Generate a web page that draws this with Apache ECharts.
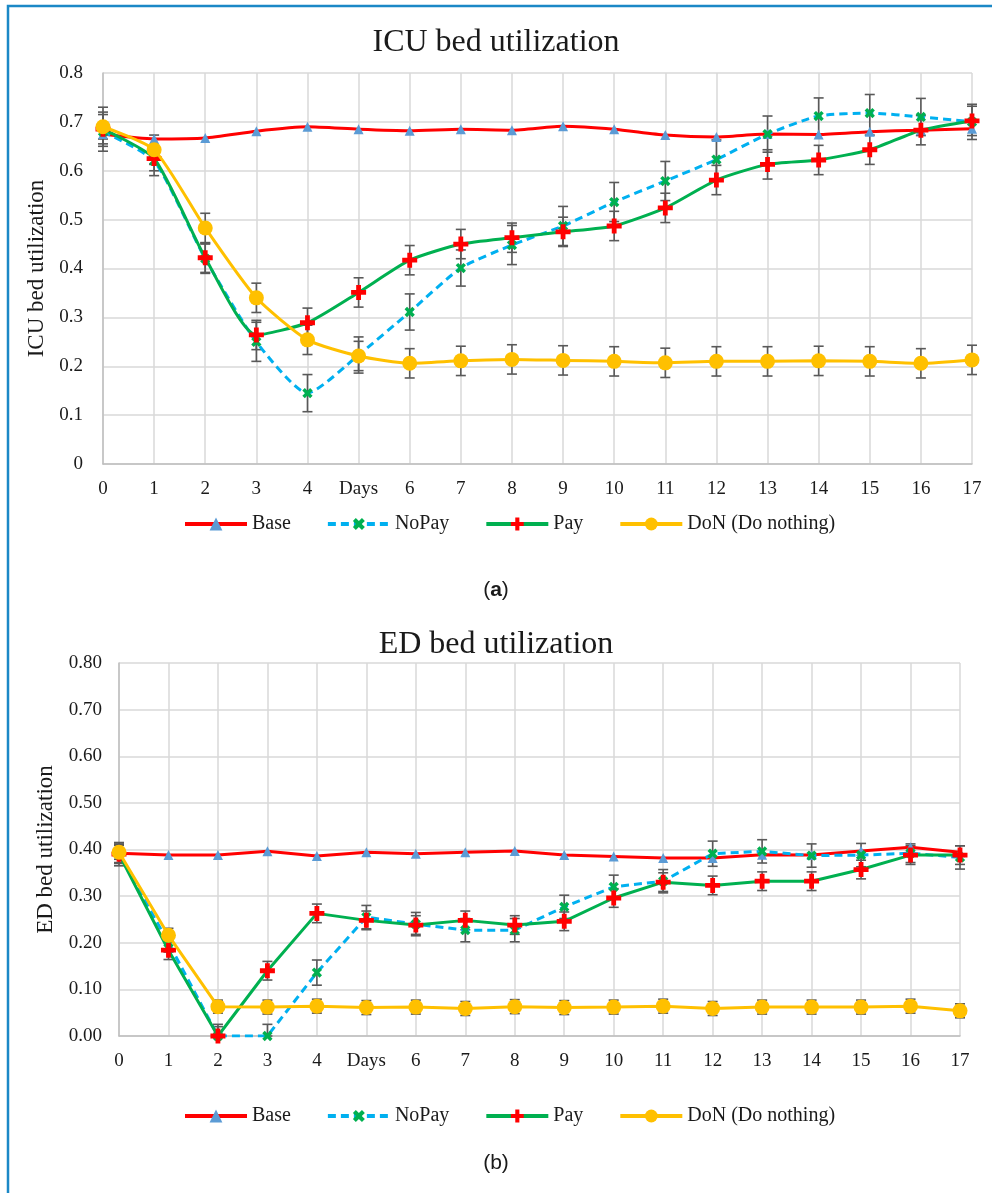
<!DOCTYPE html>
<html>
<head>
<meta charset="utf-8">
<script src="https://cdn.jsdelivr.net/npm/echarts@6/dist/echarts.min.js"></script>
<style>
  html, body { margin: 0; padding: 0; background: #fff; }
  #main { width: 992px; height: 1193px; }
</style>
</head>
<body>
<div id="main"></div>
<script>
// x axis: day 5 is labelled "Days"
var days = [0, 1, 2, 3, 4, 5, 6, 7, 8, 9, 10, 11, 12, 13, 14, 15, 16, 17];
var xLabels = ['0', '1', '2', '3', '4', 'Days', '6', '7', '8', '9', '10', '11', '12', '13', '14', '15', '16', '17'];
var yLabelsA = ['0', '0.1', '0.2', '0.3', '0.4', '0.5', '0.6', '0.7', '0.8'];
var yLabelsB = ['0.00', '0.10', '0.20', '0.30', '0.40', '0.50', '0.60', '0.70', '0.80'];
var seriesNames = ['Base', 'NoPay', 'Pay', 'DoN (Do nothing)'];

// (a) ICU bed utilization
var baseA = [0.675, 0.665, 0.667, 0.681, 0.690, 0.685, 0.682, 0.685, 0.683, 0.691, 0.685, 0.673, 0.669, 0.675, 0.674, 0.680, 0.683, 0.686];
var noPayA = [0.680, 0.620, 0.420, 0.250, 0.145, 0.223, 0.311, 0.401, 0.448, 0.487, 0.536, 0.579, 0.623, 0.675, 0.712, 0.718, 0.710, 0.700];
var payA = [0.685, 0.625, 0.422, 0.264, 0.289, 0.351, 0.417, 0.450, 0.463, 0.475, 0.487, 0.524, 0.581, 0.613, 0.622, 0.643, 0.683, 0.702];
var donA = [0.690, 0.643, 0.483, 0.340, 0.254, 0.221, 0.206, 0.211, 0.214, 0.212, 0.210, 0.207, 0.210, 0.210, 0.211, 0.210, 0.206, 0.213];
// half widths of the error bars
var baseErrA = [0.010, 0, 0, 0, 0, 0, 0, 0, 0, 0, 0, 0, 0, 0, 0, 0, 0, 0];
var noPayErrA = [0.040, 0.030, 0.030, 0.040, 0.038, 0.037, 0.037, 0.037, 0.040, 0.040, 0.040, 0.040, 0.040, 0.037, 0.037, 0.038, 0.038, 0.036];
var payErrA = [0.030, 0.025, 0.030, 0.030, 0.030, 0.030, 0.030, 0.030, 0.030, 0.030, 0.030, 0.030, 0.030, 0.030, 0.030, 0.030, 0.030, 0.030];
var donErrA = [0.040, 0.030, 0.030, 0.030, 0.030, 0.030, 0.030, 0.030, 0.030, 0.030, 0.030, 0.030, 0.030, 0.030, 0.030, 0.030, 0.030, 0.030];

// (b) ED bed utilization
var baseB = [0.392, 0.388, 0.388, 0.396, 0.386, 0.394, 0.391, 0.394, 0.397, 0.388, 0.385, 0.382, 0.382, 0.389, 0.388, 0.397, 0.405, 0.394];
var noPayB = [0.390, 0.200, 0.000, 0.000, 0.136, 0.255, 0.240, 0.227, 0.227, 0.277, 0.320, 0.332, 0.391, 0.396, 0.387, 0.388, 0.392, 0.383];
var payB = [0.390, 0.184, 0.000, 0.140, 0.263, 0.248, 0.238, 0.248, 0.238, 0.246, 0.296, 0.330, 0.323, 0.332, 0.332, 0.357, 0.388, 0.388];
var donB = [0.394, 0.216, 0.063, 0.062, 0.064, 0.061, 0.062, 0.059, 0.063, 0.061, 0.062, 0.064, 0.059, 0.062, 0.062, 0.062, 0.064, 0.054];
var baseErrB = [0.020, 0, 0, 0, 0, 0, 0, 0, 0, 0, 0, 0, 0, 0, 0, 0, 0, 0];
var noPayErrB = [0.025, 0.020, 0.025, 0.025, 0.027, 0.025, 0.025, 0.025, 0.025, 0.025, 0.025, 0.025, 0.027, 0.025, 0.025, 0.025, 0.020, 0.025];
var payErrB = [0.020, 0.020, 0.020, 0.020, 0.020, 0.020, 0.020, 0.020, 0.020, 0.020, 0.020, 0.020, 0.020, 0.020, 0.020, 0.020, 0.020, 0.020];
var donErrB = [0.015, 0.015, 0.014, 0.015, 0.015, 0.015, 0.015, 0.015, 0.015, 0.015, 0.015, 0.015, 0.015, 0.015, 0.015, 0.015, 0.015, 0.015];

var SERIF = 'Liberation Serif';
var plusPath = 'path://M3.4,0H6.6V3.4H10V6.6H6.6V10H3.4V6.6H0V3.4H3.4Z';

var styles = [
    {line: '#FF0000', dash: 'solid', symbol: 'triangle', size: 10, mark: '#5B9BD5', rot: 0},
    {line: '#00B0F0', dash: [8, 5], symbol: plusPath, size: 11, mark: '#00B050', rot: 45},
    {line: '#00B050', dash: 'solid', symbol: plusPath, size: 15, mark: '#FF0000', rot: 0},
    {line: '#FFC000', dash: 'solid', symbol: 'circle', size: 15, mark: '#FFC000', rot: 0}
];

function pairs(vals) {
    return days.map(function (d, i) { return [d, vals[i]]; });
}

function errData(vals, errs) {
    return days.map(function (d, i) {
        return [d, Math.max(0, vals[i] - errs[i]), vals[i] + errs[i]];
    });
}

function renderErr(params, api) {
    if (api.value(2) - api.value(1) <= 0) {
        return null;
    }
    var lo = api.coord([api.value(0), api.value(1)]);
    var hi = api.coord([api.value(0), api.value(2)]);
    var w = 5;
    var st = {stroke: '#595959', lineWidth: 1.6};
    return {
        type: 'group',
        children: [
            {type: 'line', shape: {x1: lo[0], y1: lo[1], x2: hi[0], y2: hi[1]}, style: st},
            {type: 'line', shape: {x1: lo[0] - w, y1: lo[1], x2: lo[0] + w, y2: lo[1]}, style: st},
            {type: 'line', shape: {x1: hi[0] - w, y1: hi[1], x2: hi[0] + w, y2: hi[1]}, style: st}
        ]
    };
}

function buildSeries(idx, valueSets, errSets, smooth) {
    var out = [];
    valueSets.forEach(function (vals, k) {
        var s = styles[k];
        out.push({
            name: seriesNames[k],
            type: 'line',
            xAxisIndex: idx,
            yAxisIndex: idx,
            data: pairs(vals),
            smooth: smooth,
            symbol: s.symbol,
            symbolSize: s.size,
            symbolRotate: s.rot,
            showAllSymbol: true,
            lineStyle: {color: s.line, width: 3, type: s.dash},
            itemStyle: {color: s.mark},
            z: 3 + k,
            animation: false
        });
        out.push({
            name: 'err' + k,
            type: 'custom',
            xAxisIndex: idx,
            yAxisIndex: idx,
            data: errData(vals, errSets[k]),
            renderItem: renderErr,
            encode: {x: 0, y: [1, 2]},
            z: 2,
            silent: true,
            animation: false
        });
    });
    return out;
}

function xAxisCfg(idx) {
    return {
        type: 'value', gridIndex: idx, min: 0, max: 17, interval: 1,
        axisLine: {lineStyle: {color: '#BFBFBF', width: 1.5}},
        axisTick: {show: false},
        splitLine: {lineStyle: {color: '#D9D9D9', width: 1.5}},
        axisLabel: {
            margin: 16, color: '#1a1a1a', fontFamily: SERIF, fontSize: 19,
            formatter: function (v) { return xLabels[Math.round(v)]; }
        }
    };
}

function yAxisCfg(idx, name, labels, gap, margin) {
    return {
        type: 'value', gridIndex: idx, min: 0, max: 0.8, interval: 0.1,
        name: name, nameLocation: 'middle', nameGap: gap,
        nameTextStyle: {fontFamily: SERIF, fontSize: 23, color: '#1a1a1a'},
        axisLine: {show: true, lineStyle: {color: '#BFBFBF', width: 1.5}},
        axisTick: {show: false},
        splitLine: {lineStyle: {color: '#D9D9D9', width: 1.5}},
        axisLabel: {
            margin: margin, color: '#1a1a1a', fontFamily: SERIF, fontSize: 19,
            formatter: function (v) { return labels[Math.round(v * 10)]; }
        }
    };
}

function legendCfg(top) {
    return {
        data: seriesNames,
        left: 178,
        top: top,
        itemWidth: 62,
        itemHeight: 16,
        itemGap: 35,
        lineStyle: {width: 4},
        textStyle: {fontFamily: SERIF, fontSize: 20, color: '#1a1a1a'},
        selectedMode: false
    };
}

var myChart = echarts.init(document.getElementById('main'), null, {renderer: 'canvas'});

var option = {
    backgroundColor: '#ffffff',
    animation: false,
    title: [
        {text: 'ICU bed utilization', left: 'center', top: 22,
            textStyle: {fontFamily: SERIF, fontSize: 32, fontWeight: 'normal', color: '#1a1a1a'}},
        {text: 'ED bed utilization', left: 'center', top: 624,
            textStyle: {fontFamily: SERIF, fontSize: 32, fontWeight: 'normal', color: '#1a1a1a'}}
    ],
    legend: [legendCfg(509), legendCfg(1101)],
    grid: [
        {left: 103, right: 20, top: 73, height: 391},
        {left: 119, right: 32, top: 663, height: 373}
    ],
    xAxis: [xAxisCfg(0), xAxisCfg(1)],
    yAxis: [
        yAxisCfg(0, 'ICU bed utilization', yLabelsA, 53, 20),
        yAxisCfg(1, 'ED bed utilization', yLabelsB, 60, 17)
    ],
    series: buildSeries(0, [baseA, noPayA, payA, donA], [baseErrA, noPayErrA, payErrA, donErrA], 0.2)
        .concat(buildSeries(1, [baseB, noPayB, payB, donB], [baseErrB, noPayErrB, payErrB, donErrB], false)),
    graphic: [
        {type: 'rect', shape: {x: 8, y: 6, width: 1000, height: 1200},
            style: {fill: 'none', stroke: '#1B88C6', lineWidth: 2.5}, silent: true},
        {type: 'text', x: 496, y: 590,
            style: {text: '({a|a})', align: 'center', verticalAlign: 'middle',
                font: '21px "Liberation Sans"', fill: '#1a1a1a',
                rich: {a: {fontWeight: 'bold', fontSize: 21, fontFamily: 'Liberation Sans'}}}},
        {type: 'text', x: 496, y: 1163,
            style: {text: '(b)', align: 'center', verticalAlign: 'middle',
                font: '21px "Liberation Sans"', fill: '#1a1a1a'}}
    ]
};

myChart.setOption(option);
window.addEventListener('resize', function () {
    myChart.resize();
});
</script>
</body>
</html>
